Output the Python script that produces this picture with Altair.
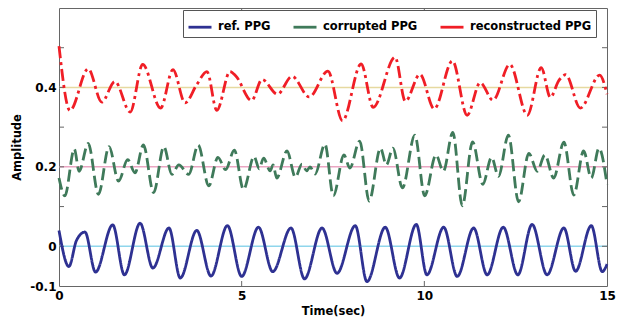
import altair as alt
import pandas as pd

# ---------------- data ----------------
ref_t = [0.00, 0.27, 0.48, 0.71, 1.00, 1.47, 1.79, 2.22, 2.57, 3.01, 3.32, 3.77, 4.16, 4.61,
         5.00, 5.46, 5.85, 6.35, 6.72, 7.20, 7.61, 8.11, 8.43, 8.93, 9.32, 9.78, 10.07, 10.53,
         10.90, 11.35, 11.72, 12.16, 12.56, 12.95, 13.36, 13.82, 14.14, 14.57, 14.87, 15.00]
ref_v = [0.040, -0.051, 0.015, 0.036, -0.065, 0.054, -0.072, 0.058, -0.055, 0.046, -0.080, 0.040,
         -0.075, 0.052, -0.076, 0.048, -0.064, 0.046, -0.082, 0.046, -0.068, 0.052, -0.089, 0.048,
         -0.080, 0.055, -0.072, 0.048, -0.076, 0.046, -0.072, 0.048, -0.072, 0.055, -0.072, 0.046,
         -0.063, 0.052, -0.064, -0.045]

cor_t = [0.00, 0.16, 0.42, 0.55, 0.80, 1.08, 1.37, 1.63, 1.88, 2.08, 2.31, 2.59, 2.87, 3.09,
         3.28, 3.55, 3.81, 4.10, 4.35, 4.56, 4.80, 5.05, 5.34, 5.48, 5.60, 5.78, 5.86, 5.96,
         6.24, 6.47, 6.65, 6.78, 6.87, 7.01, 7.28, 7.51, 7.80, 7.96, 8.23, 8.49, 8.80, 8.96,
         9.14, 9.40, 9.74, 10.01, 10.32, 10.52, 10.78, 11.04, 11.32, 11.60, 11.84, 12.03, 12.30,
         12.58, 12.86, 13.09, 13.30, 13.54, 13.82, 14.09, 14.36, 14.57, 14.78, 15.00]
cor_v = [0.172, 0.127, 0.245, 0.189, 0.259, 0.131, 0.251, 0.164, 0.218, 0.185, 0.255, 0.135,
         0.251, 0.181, 0.205, 0.181, 0.255, 0.152, 0.224, 0.193, 0.242, 0.143, 0.226, 0.195,
         0.222, 0.190, 0.205, 0.172, 0.240, 0.174, 0.207, 0.190, 0.200, 0.182, 0.257, 0.127,
         0.230, 0.197, 0.265, 0.114, 0.247, 0.205, 0.247, 0.147, 0.280, 0.127, 0.230, 0.189,
         0.287, 0.102, 0.263, 0.156, 0.224, 0.176, 0.280, 0.112, 0.234, 0.189, 0.230, 0.172,
         0.262, 0.129, 0.240, 0.172, 0.247, 0.156]

rec_t = [0.00, 0.30, 0.80, 1.17, 1.53, 1.95, 2.29, 2.78, 3.12, 3.45, 3.77, 4.05, 4.32, 4.68,
         4.84, 5.27, 5.56, 5.98, 6.38, 6.85, 7.36, 7.76, 8.27, 8.60, 9.20, 9.48, 9.88, 10.27,
         10.77, 11.17, 11.53, 11.88, 12.34, 12.82, 13.20, 13.45, 13.68, 13.87, 14.27, 14.80, 15.00]
rec_v = [0.504, 0.342, 0.447, 0.363, 0.415, 0.338, 0.458, 0.348, 0.445, 0.361, 0.407, 0.440,
         0.342, 0.440, 0.429, 0.367, 0.420, 0.383, 0.428, 0.376, 0.441, 0.316, 0.459, 0.350,
         0.476, 0.365, 0.433, 0.346, 0.467, 0.330, 0.412, 0.368, 0.458, 0.330, 0.450, 0.375,
         0.417, 0.432, 0.348, 0.431, 0.383]

series_names = ["ref. PPG", "corrupted PPG", "reconstructed PPG"]
series_colors = ["#2e3192", "#3f7a5a", "#f01e26"]
series_dash = [[1, 0], [12, 5], [12, 4, 3, 4]]

hline_values = [0.0, 0.2, 0.4]
hline_colors = ["#8fd6ec", "#eaa6c2", "#e6d9a0"]

x_labels = [0, 5, 10, 15]
y_labels = [-0.1, 0, 0.2, 0.4]
x_minor = [5, 10]
y_minor = [0.0, 0.1, 0.2, 0.3, 0.4, 0.5]

# ---------------- tables ----------------
rows = []
for name, ts, vs in zip(series_names, [ref_t, cor_t, rec_t], [ref_v, cor_v, rec_v]):
    for t, v in zip(ts, vs):
        rows.append({"t": t, "v": v, "series": name})
df = pd.DataFrame(rows)
hl = pd.DataFrame({"y": hline_values, "c": hline_colors})
xt = pd.DataFrame({"x": x_minor})
yt = pd.DataFrame({"y": y_minor})

W, H = 548, 278
FONT = "DejaVu Sans"

xscale = alt.Scale(domain=[0, 15], nice=False)
yscale = alt.Scale(domain=[-0.1, 0.6], nice=False)

xaxis = alt.Axis(values=x_labels, title="Time(sec)", format="d", ticks=False, domain=False,
                 grid=False, labelFontSize=12, labelFontWeight="bold", labelFont=FONT,
                 labelColor="black", labelPadding=4, titleFontSize=11.5, titleFont=FONT,
                 titleFontWeight="bold", titleColor="black", titlePadding=4, labelFlush=False)
yaxis = alt.Axis(values=y_labels, title="Amplitude", labelExpr="'' + datum.value", ticks=False,
                 domain=False, grid=False, labelFontSize=12, labelFontWeight="bold",
                 labelFont=FONT, labelColor="black", labelPadding=3, titleFontSize=11.5,
                 titleFont=FONT, titleFontWeight="bold", titleColor="black", titlePadding=7)

hrules = alt.Chart(hl).mark_rule(strokeWidth=1.5).encode(
    y=alt.Y("y:Q", scale=yscale, axis=yaxis),
    color=alt.Color("c:N", scale=None, legend=None),
)

lines = alt.Chart(df).mark_line(strokeWidth=2.8, interpolate="monotone", strokeCap="butt").encode(
    x=alt.X("t:Q", scale=xscale, axis=xaxis),
    y=alt.Y("v:Q", scale=yscale),
    color=alt.Color("series:N", scale=alt.Scale(domain=series_names, range=series_colors),
                    sort=series_names,
                    legend=alt.Legend(title=None, orient="none", direction="horizontal",
                                      legendX=124, legendY=2, symbolType="stroke",
                                      symbolSize=529, symbolStrokeWidth=2.8,
                                      labelFontSize=11.5, labelFontWeight="bold", labelFont=FONT,
                                      labelColor="black", strokeColor="#555555",
                                      fillColor="white", padding=4, columnPadding=16,
                                      labelOffset=5)),
    strokeDash=alt.StrokeDash("series:N",
                              scale=alt.Scale(domain=series_names, range=series_dash),
                              sort=series_names, legend=None),
    detail="series:N",
)

tick_style = dict(color="#666666", strokeWidth=1)
xt_bot = alt.Chart(xt).mark_rule(**tick_style).encode(
    x=alt.X("x:Q", scale=xscale), y=alt.value(H), y2=alt.value(H - 5))
xt_top = alt.Chart(xt).mark_rule(**tick_style).encode(
    x=alt.X("x:Q", scale=xscale), y=alt.value(0), y2=alt.value(5))
yt_left = alt.Chart(yt).mark_rule(**tick_style).encode(
    y=alt.Y("y:Q", scale=yscale), x=alt.value(0), x2=alt.value(5))
yt_right = alt.Chart(yt).mark_rule(**tick_style).encode(
    y=alt.Y("y:Q", scale=yscale), x=alt.value(W - 5), x2=alt.value(W))

chart = alt.layer(hrules, xt_bot, xt_top, yt_left, yt_right, lines).resolve_scale(
    color="independent"
).properties(
    width=W, height=H,
    autosize=alt.AutoSizeParams(type="none"),
    padding={"left": 51, "top": 0, "right": 10, "bottom": 35},
    background="white",
).configure_view(stroke="#666666", strokeWidth=1)

chart.save("out.html", embed_options={"renderer": "svg", "actions": False})
